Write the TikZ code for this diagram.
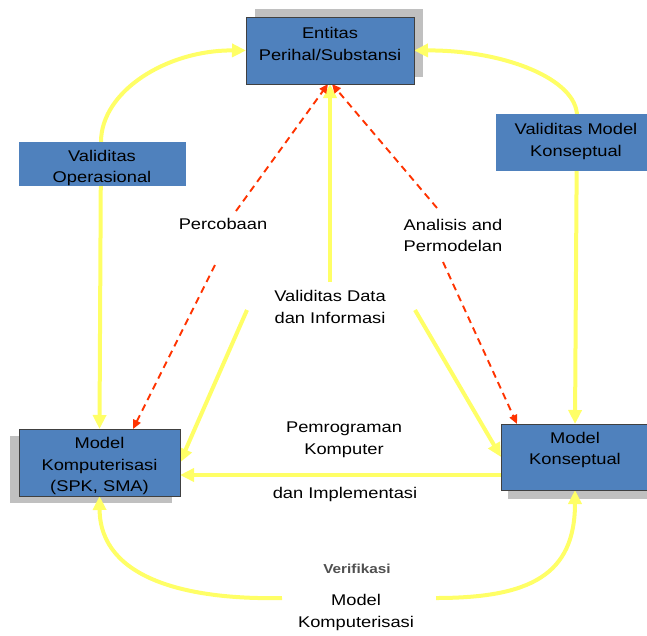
\documentclass[tikz,border=0pt]{standalone}
\usepackage{fontspec}
\setmainfont{Liberation Sans}[FakeStretch=1.18]
\usetikzlibrary{arrows.meta,calc}
\definecolor{boxblue}{HTML}{4F81BD}
\definecolor{shadowgray}{HTML}{C0C0C0}
\definecolor{ylw}{HTML}{FFFF66}
\definecolor{rdash}{HTML}{FF3300}
\definecolor{verif}{HTML}{505050}
\pgfdeclarelayer{bg}
\pgfdeclarelayer{mid}
\pgfsetlayers{bg,mid,main}
\begin{document}
\begin{tikzpicture}[x=1pt,y=-1pt,
  box/.style={fill=boxblue,inner sep=0pt,outer sep=0pt},
  boxline/.style={draw=black!75,line width=0.7pt},
  shadowbox/.style={fill=shadowgray},
  txt/.style={font=\fontsize{15.5}{21.5}\selectfont,align=center,inner sep=0pt,text=black},
  yarrow/.style={draw=ylw,line width=4pt,-{Triangle[length=14pt,width=13pt]}},
  yboth/.style={draw=ylw,line width=4pt,{Triangle[length=14pt,width=13pt]}-{Triangle[length=14pt,width=13pt]}},
  rline/.style={draw=rdash,line width=1.9pt,dash pattern=on 7pt off 5pt},
  rtip/.style={-{Triangle[length=9pt,width=8pt]}}
]
\useasboundingbox (0,0) rectangle (647,635);
\clip (0,0) rectangle (647,635);

% boxes
\node[box,boxline,minimum width=168pt,minimum height=67pt] (ent) at (330,50.5) {};
\node[box,minimum width=167pt,minimum height=44pt] (vop) at (102.5,164) {};
\node[box,minimum width=160pt,minimum height=57pt] (vmk) at (576,142.5) {};
\node[box,boxline,minimum width=161pt,minimum height=67pt] (mk) at (99.5,462.5) {};
\node[box,boxline,minimum width=148pt,minimum height=66pt] (mkon) at (575,457) {};

% shadows
\begin{pgfonlayer}{bg}
  \fill[shadowgray] (255,9) rectangle (423,77);
  \fill[shadowgray] (10,436) rectangle (172,503);
  \fill[shadowgray] (508,430) rectangle (656,499);
\end{pgfonlayer}

% box texts
\node[txt] (ent-t) at (330,44) {Entitas\\Perihal/Substansi};
\node[txt] (vop-t) at (102,168) {Validitas\\Operasional};
\node[txt] (vmk-t) at (576,141.5) {Validitas Model\\Konseptual};
\node[txt] (mk-t) at (99.5,466) {Model\\Komputerisasi\\(SPK, SMA)};
\node[txt] (mkon-t) at (575,450) {Model\\Konseptual};

% free labels
\node[txt] (perc) at (223,224) {Percobaan};
\node[txt,align=left] (anal) at (453,235.5) {Analisis and\\Permodelan};
\node[txt] (vdat) at (330,307) {Validitas Data\\dan Informasi};
\node[txt] (pemr) at (344,440) {Pemrograman\\Komputer};
\node[txt] (dimp) at (345,494) {dan Implementasi};
\node[font=\bfseries\fontsize{13}{16}\selectfont,text=verif,inner sep=0pt] (verif) at (357,569) {Verifikasi};
\node[txt] (mkomp) at (356,612.5) {Model\\Komputerisasi};

% helper coordinates
\coordinate (vd) at (330,282);
\coordinate (dl) at (247,310);
\coordinate (dr) at (415,310);
\coordinate (hl) at (0,475);
\coordinate (bl) at (282,598);
\coordinate (br) at (436,598);
\coordinate (rl1) at (236,211);
\coordinate (rl2) at (215,265);
\coordinate (rlx) at (133,0);
\coordinate (rr1) at (437,208);
\coordinate (rr2) at (443,262);
\coordinate (rrx) at (517,0);

\begin{pgfonlayer}{mid}
  % yellow connectors
  \draw[yboth] (ent.west) .. controls (167,50) and (101,91) .. (101,142) -- (mk.north);
  \draw[yboth] (ent.east) .. controls (504,50) and (577,79) .. (577,116) -- (mkon.north);
  \draw[yarrow] (vd) -- (ent.south);
  \draw[yarrow] (dl) -- (mk.east);
  \draw[yarrow] (dr) -- (mkon.west);
  \draw[yarrow] (mkon.west |- hl) -- (mk.east |- hl);
  \draw[yarrow] (bl) .. controls (190,600) and (100,580) .. (mk.south);
  \draw[yarrow] (br) .. controls (530,598) and (575,575) .. (mkon.south);
  % red dashed connectors
  \draw[rline,rtip] (rl1) -- ([xshift=-2pt]ent.south);
  \draw[rline,rtip] (rl2) -- (mk.north -| rlx);
  \draw[rline,rtip] (rr1) -- ([xshift=2pt]ent.south);
  \draw[rline,rtip] (rr2) -- (mkon.north -| rrx);
\end{pgfonlayer}
\end{tikzpicture}
\end{document}
